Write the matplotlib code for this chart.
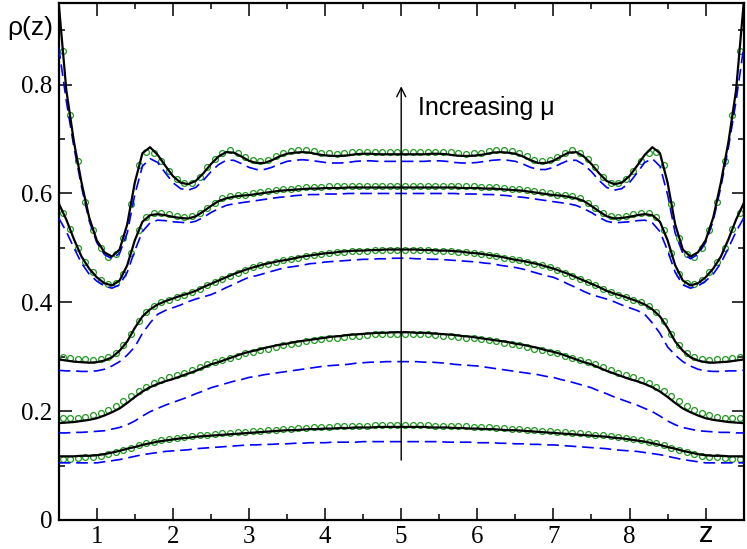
import numpy as np
import matplotlib
matplotlib.use("Agg")
import matplotlib.pyplot as plt
from matplotlib.ticker import MultipleLocator

plt.rcParams["font.family"] = ["Liberation Serif", "DejaVu Serif"]

# Half profiles (pore is symmetric about z = 5); mirrored for display.
z_line = np.round(np.arange(0.5, 5.0001, 0.1), 2)   # 0.5 ... 5.0
z_sim = np.round(np.arange(0.55, 4.9501, 0.1), 2)   # 0.55 ... 4.95

# ---- set 1 (highest mu)
theory1 = [0.950, 0.790, 0.695, 0.620, 0.556, 0.514, 0.492, 0.484, 0.497, 0.543,
           0.620, 0.674, 0.685, 0.671, 0.651, 0.632, 0.620, 0.617, 0.623, 0.637,
           0.654, 0.668, 0.676, 0.675, 0.668, 0.660, 0.656, 0.656, 0.661, 0.668,
           0.673, 0.675, 0.676, 0.675, 0.672, 0.670, 0.669, 0.669, 0.670, 0.672,
           0.673, 0.673, 0.672, 0.672, 0.672, 0.672]
sim1 = [0.862, 0.745, 0.660, 0.585, 0.532, 0.499, 0.484, 0.489, 0.519, 0.580,
        0.652, 0.677, 0.675, 0.660, 0.641, 0.626, 0.619, 0.620, 0.630, 0.648,
        0.664, 0.675, 0.679, 0.675, 0.667, 0.661, 0.660, 0.662, 0.668, 0.674,
        0.678, 0.679, 0.680, 0.678, 0.675, 0.674, 0.673, 0.674, 0.676, 0.677,
        0.677, 0.676, 0.676, 0.676, 0.676]
approx1 = [0.869, 0.770, 0.685, 0.612, 0.550, 0.510, 0.488, 0.480, 0.490, 0.527,
           0.598, 0.650, 0.664, 0.657, 0.638, 0.620, 0.609, 0.606, 0.611, 0.624,
           0.640, 0.653, 0.661, 0.661, 0.655, 0.648, 0.644, 0.644, 0.648, 0.654,
           0.659, 0.661, 0.662, 0.661, 0.659, 0.657, 0.656, 0.656, 0.657, 0.659,
           0.660, 0.660, 0.659, 0.659, 0.659, 0.659]

# ---- set 2
theory2 = [0.582, 0.552, 0.516, 0.484, 0.462, 0.446, 0.435, 0.431, 0.440, 0.468,
           0.514, 0.548, 0.560, 0.562, 0.560, 0.557, 0.555, 0.554, 0.558, 0.567,
           0.577, 0.586, 0.591, 0.594, 0.596, 0.597, 0.599, 0.601, 0.603, 0.605,
           0.606, 0.607, 0.608, 0.609, 0.609, 0.610, 0.610, 0.610, 0.611, 0.611,
           0.611, 0.611, 0.611, 0.611, 0.611, 0.611]
sim2 = [0.565, 0.535, 0.500, 0.474, 0.455, 0.441, 0.433, 0.435, 0.452, 0.490,
        0.532, 0.556, 0.564, 0.564, 0.562, 0.559, 0.557, 0.558, 0.564, 0.573,
        0.583, 0.591, 0.595, 0.597, 0.598, 0.600, 0.602, 0.604, 0.606, 0.608,
        0.609, 0.610, 0.611, 0.612, 0.612, 0.613, 0.613, 0.613, 0.614, 0.614,
        0.614, 0.614, 0.614, 0.614, 0.614]
approx2 = [0.555, 0.530, 0.500, 0.472, 0.452, 0.439, 0.430, 0.426, 0.432, 0.455,
           0.495, 0.530, 0.546, 0.551, 0.550, 0.548, 0.547, 0.546, 0.549, 0.556,
           0.565, 0.572, 0.578, 0.581, 0.583, 0.585, 0.587, 0.589, 0.591, 0.593,
           0.594, 0.596, 0.597, 0.598, 0.598, 0.599, 0.599, 0.599, 0.600, 0.600,
           0.600, 0.600, 0.600, 0.600, 0.600, 0.600]

# ---- set 3
theory3 = [0.295, 0.293, 0.291, 0.290, 0.289, 0.290, 0.293, 0.299, 0.311, 0.328,
           0.353, 0.374, 0.387, 0.396, 0.402, 0.407, 0.412, 0.416, 0.421, 0.428,
           0.434, 0.440, 0.446, 0.452, 0.457, 0.462, 0.466, 0.470, 0.473, 0.476,
           0.478, 0.481, 0.484, 0.486, 0.488, 0.490, 0.491, 0.493, 0.494, 0.495,
           0.495, 0.496, 0.496, 0.497, 0.497, 0.497]
sim3 = [0.300, 0.298, 0.296, 0.295, 0.294, 0.296, 0.300, 0.307, 0.322, 0.342,
        0.366, 0.383, 0.393, 0.400, 0.405, 0.410, 0.414, 0.419, 0.425, 0.431,
        0.437, 0.443, 0.449, 0.454, 0.459, 0.464, 0.468, 0.471, 0.474, 0.477,
        0.480, 0.482, 0.485, 0.487, 0.489, 0.490, 0.492, 0.493, 0.494, 0.495,
        0.495, 0.496, 0.496, 0.496, 0.496]
approx3 = [0.275, 0.274, 0.274, 0.273, 0.273, 0.274, 0.277, 0.283, 0.291, 0.303,
           0.318, 0.343, 0.362, 0.378, 0.385, 0.390, 0.395, 0.401, 0.406, 0.410,
           0.414, 0.420, 0.427, 0.433, 0.440, 0.446, 0.449, 0.453, 0.457, 0.461,
           0.464, 0.466, 0.468, 0.471, 0.472, 0.474, 0.475, 0.476, 0.477, 0.478,
           0.479, 0.479, 0.480, 0.480, 0.481, 0.481]

# ---- set 4
theory4 = [0.178, 0.179, 0.180, 0.182, 0.184, 0.187, 0.192, 0.198, 0.205, 0.215,
           0.226, 0.236, 0.244, 0.250, 0.255, 0.259, 0.264, 0.269, 0.274, 0.280,
           0.286, 0.290, 0.295, 0.300, 0.305, 0.309, 0.312, 0.316, 0.319, 0.322,
           0.324, 0.327, 0.329, 0.331, 0.333, 0.335, 0.337, 0.338, 0.340, 0.341,
           0.342, 0.343, 0.344, 0.344, 0.345, 0.345]
sim4 = [0.187, 0.187, 0.188, 0.190, 0.193, 0.197, 0.203, 0.210, 0.219, 0.228,
        0.237, 0.245, 0.251, 0.257, 0.262, 0.267, 0.271, 0.276, 0.281, 0.286,
        0.290, 0.294, 0.298, 0.302, 0.306, 0.309, 0.312, 0.315, 0.318, 0.321,
        0.323, 0.326, 0.328, 0.330, 0.332, 0.334, 0.335, 0.337, 0.338, 0.339,
        0.340, 0.341, 0.341, 0.342, 0.342]
approx4 = [0.160, 0.160, 0.161, 0.161, 0.162, 0.163, 0.164, 0.167, 0.170, 0.175,
           0.182, 0.191, 0.199, 0.205, 0.211, 0.216, 0.221, 0.226, 0.232, 0.237,
           0.243, 0.247, 0.251, 0.255, 0.258, 0.262, 0.264, 0.267, 0.269, 0.271,
           0.273, 0.275, 0.277, 0.279, 0.281, 0.283, 0.284, 0.285, 0.286, 0.288,
           0.289, 0.290, 0.290, 0.291, 0.291, 0.291]

# ---- set 5 (lowest mu)
theory5 = [0.117, 0.117, 0.117, 0.118, 0.118, 0.119, 0.121, 0.124, 0.127, 0.131,
           0.134, 0.138, 0.141, 0.144, 0.146, 0.148, 0.150, 0.151, 0.153, 0.154,
           0.155, 0.156, 0.157, 0.158, 0.159, 0.160, 0.161, 0.162, 0.163, 0.164,
           0.165, 0.165, 0.166, 0.167, 0.167, 0.168, 0.168, 0.169, 0.169, 0.170,
           0.170, 0.170, 0.171, 0.171, 0.171, 0.171]
sim5 = [0.113, 0.113, 0.114, 0.115, 0.116, 0.118, 0.121, 0.125, 0.129, 0.133,
        0.137, 0.141, 0.144, 0.147, 0.149, 0.151, 0.153, 0.154, 0.156, 0.157,
        0.158, 0.159, 0.160, 0.161, 0.162, 0.163, 0.164, 0.165, 0.166, 0.167,
        0.168, 0.169, 0.169, 0.170, 0.171, 0.171, 0.172, 0.172, 0.173, 0.173,
        0.173, 0.174, 0.174, 0.174, 0.174]
approx5 = [0.105, 0.105, 0.105, 0.105, 0.105, 0.105, 0.107, 0.109, 0.111, 0.114,
           0.117, 0.120, 0.122, 0.124, 0.126, 0.127, 0.128, 0.129, 0.131, 0.132,
           0.133, 0.134, 0.135, 0.136, 0.137, 0.138, 0.138, 0.139, 0.139, 0.140,
           0.140, 0.141, 0.141, 0.142, 0.142, 0.142, 0.143, 0.143, 0.143, 0.143,
           0.144, 0.144, 0.144, 0.144, 0.144, 0.144]

theory_sets = [theory1, theory2, theory3, theory4, theory5]
sim_sets = [sim1, sim2, sim3, sim4, sim5]
approx_sets = [approx1, approx2, approx3, approx4, approx5]

x_ticks = [1, 2, 3, 4, 5, 6, 7, 8, 9]
x_labels = ["1", "2", "3", "4", "5", "6", "7", "8", ""]
y_ticks = [0, 0.2, 0.4, 0.6, 0.8]
y_labels = ["0", "0.2", "0.4", "0.6", "0.8"]


def mirror_line(zh, yh):
    zh = np.asarray(zh, float); yh = np.asarray(yh, float)
    return (np.concatenate([zh, 10.0 - zh[::-1][1:]]),
            np.concatenate([yh, yh[::-1][1:]]))


def mirror_sim(zh, yh):
    zh = np.asarray(zh, float); yh = np.asarray(yh, float)
    return (np.concatenate([zh, 10.0 - zh[::-1]]),
            np.concatenate([yh, yh[::-1]]))


fig = plt.figure(figsize=(7.47, 5.49), dpi=100)
ax = fig.add_axes([58.7 / 747, 1 - 520 / 549, (743.7 - 58.7) / 747, (520 - 3) / 549])

green = "#1f9a1f"
for th, sm, ap in zip(theory_sets, sim_sets, approx_sets):
    zs, ys = mirror_sim(z_sim, sm)
    ax.plot(zs, ys, linestyle="none", marker="o", markersize=4.2,
            markerfacecolor="none", markeredgecolor=green, markeredgewidth=0.9, zorder=2)
    zl, yl = mirror_line(z_line, ap)
    ax.plot(zl, yl, color="#0000ff", lw=1.2, dashes=(7, 3.5), zorder=3)
    zl, yl = mirror_line(z_line, th)
    ax.plot(zl, yl, color="black", lw=1.6, zorder=4)

ax.set_xlim(0.5, 9.5)
ax.set_ylim(0, 0.95)
ax.set_xticks(x_ticks)
ax.set_xticklabels(x_labels, fontfamily="Liberation Serif", fontsize=18)
ax.set_yticks(y_ticks)
ax.set_yticklabels(y_labels, fontfamily="Liberation Serif", fontsize=18)
ax.xaxis.set_minor_locator(MultipleLocator(0.5))
ax.yaxis.set_minor_locator(MultipleLocator(0.1))
ax.tick_params(which="both", direction="in", top=True, right=True, width=1.1)
ax.tick_params(which="major", length=9, pad=4.5)
ax.tick_params(which="minor", length=4.5)
for sp in ax.spines.values():
    sp.set_linewidth(1.6)

ax.annotate("", xy=(5, 0.797), xytext=(5, 0.11),
            arrowprops=dict(arrowstyle="->", lw=1.0, color="black",
                            mutation_scale=16, shrinkA=0, shrinkB=0))
ax.text(5.22, 0.744, "Increasing \u03bc", fontsize=18, family="Liberation Sans",
        va="baseline", ha="left")

fig.text(53.5 / 747, 1 - 28 / 549, "\u03c1(z)", fontsize=19, family="Liberation Sans",
         ha="right", va="center")
fig.text(706.5 / 747, 1 - 534 / 549, "z", fontsize=21, family="Liberation Sans",
         ha="center", va="center")

fig.savefig("out.png", dpi=100)
